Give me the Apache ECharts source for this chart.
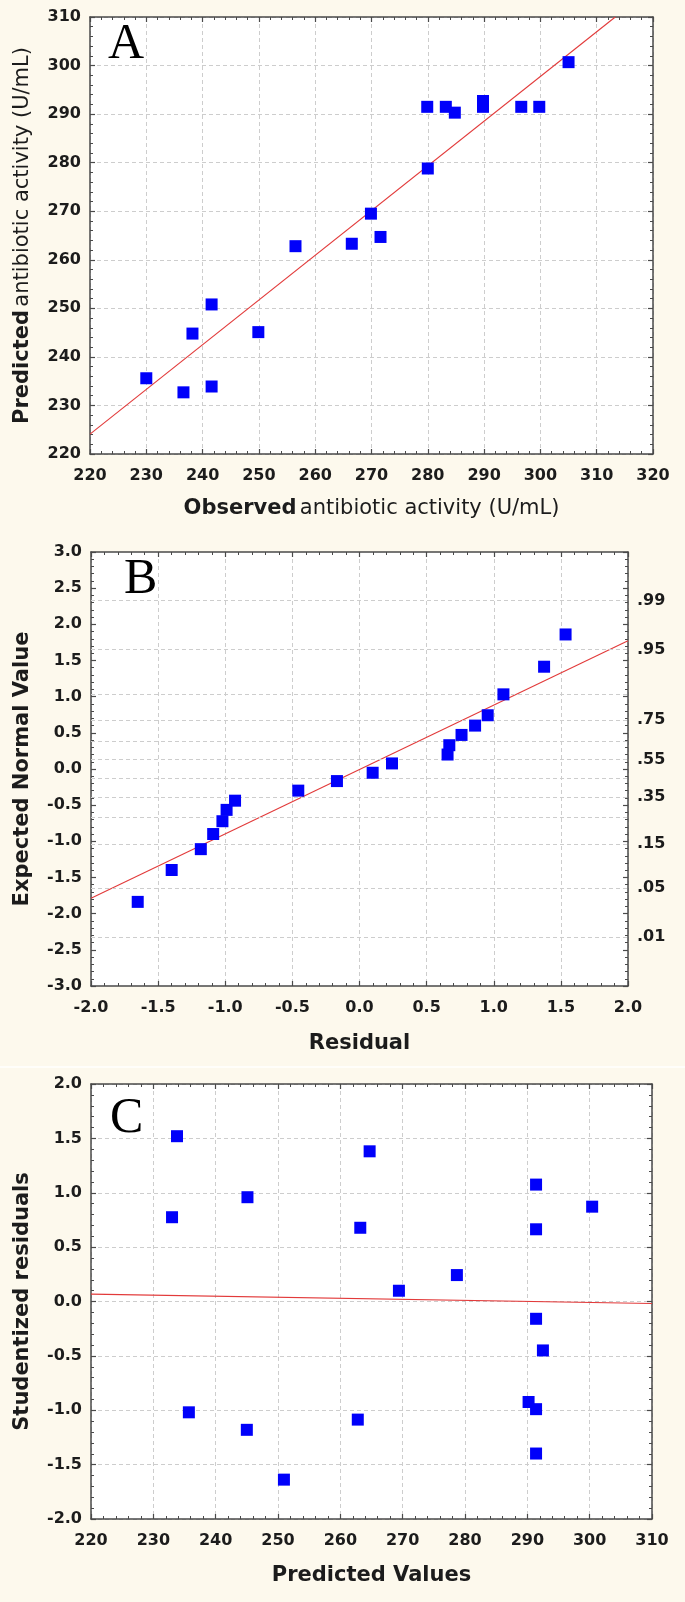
<!DOCTYPE html>
<html><head><meta charset="utf-8">
<script src="https://cdn.jsdelivr.net/npm/echarts@6/dist/echarts.min.js"></script>
<style>html,body{margin:0;padding:0;background:#fdf9ed}#c{width:685px;height:1602px}</style>
</head><body><div id="c"></div>
<script>
// ---- Panel A: observed vs predicted ----
const obsA  = [230, 236.6, 238.2, 241.6, 241.6, 249.9, 256.5, 266.5, 269.9, 271.6, 280, 279.9, 283.2, 284.8, 289.8, 289.8, 296.6, 299.8, 305];
const predA = [235.6, 232.7, 244.8, 250.8, 233.9, 245.1, 262.8, 263.3, 269.5, 264.7, 278.8, 291.5, 291.5, 290.3, 292.7, 291.5, 291.5, 291.5, 300.7];
const fitLineA = [[220, 224.1], [313.3, 310]];
// ---- Panel B: normal probability plot of residuals ----
const residB = [-1.652, -1.399, -1.182, -1.090, -1.021, -0.990, -0.927, -0.456, -0.168, 0.098, 0.242, 0.656, 0.669, 0.760, 0.861, 0.955, 1.072, 1.375, 1.535];
const normB  = [-1.837, -1.396, -1.108, -0.899, -0.722, -0.565, -0.438, -0.299, -0.167, -0.052, 0.077, 0.200, 0.329, 0.471, 0.600, 0.743, 1.032, 1.414, 1.860];
const fitLineB = [[-2, -1.786], [2, 1.774]];
const probGridZ = [-2.326, -1.645, -1.036, -0.674, -0.385, -0.126, 0.126, 0.385, 0.674, 1.036, 1.645, 2.326];
const probLabelZ = [-2.326, -1.645, -1.036, -0.385, 0.126, 0.674, 1.645, 2.326];
const probLabels = ['.01', '.05', '.15', '.35', '.55', '.75', '.95', '.99'];
// ---- Panel C: studentized residuals vs predicted ----
const predC = [233.8, 233.0, 245.1, 235.7, 245.0, 250.95, 264.7, 263.2, 262.8, 269.4, 278.7, 291.4, 291.4, 291.4, 292.5, 290.2, 291.4, 291.4, 300.4];
const studC = [1.52, 0.775, 0.959, -1.019, -1.18, -1.638, 1.381, 0.678, -1.086, 0.099, 0.243, 1.075, 0.664, -0.159, -0.45, -0.924, -0.99, -1.398, 0.872];
const fitLineC = [[220, 0.068], [310, -0.018]];

const FONT = 'DejaVu Sans';
const TXT = '#1c1c1c';
const FRAME = '#4a4a4a';
const GRIDC = '#cdcdcd';

function baseAxis(gi, pos, min, max, interval, showLabel, split, fmt) {
  return {
    type: 'value', gridIndex: gi, position: pos, min: min, max: max, interval: interval,
    axisLine: { show: true, onZero: false, lineStyle: { color: FRAME, width: 1.5 } },
    axisTick: { show: true, inside: true, length: 5, lineStyle: { color: FRAME, width: 1.2 } },
    minorTick: { show: true, splitNumber: 5, length: 3, lineStyle: { color: FRAME, width: 1 } },
    splitLine: { show: split, lineStyle: { color: GRIDC, type: [4, 3], width: 1 } },
    axisLabel: { show: showLabel, fontFamily: FONT, fontWeight: 'bold', fontSize: 16, color: TXT, margin: 9,
      formatter: fmt || (v => String(v)) }
  };
}
const f1 = v => v.toFixed(1);
const titleStyle = { fontFamily: FONT, fontWeight: 'bold', fontSize: 21, color: TXT };
const nameRich = {
  b: { fontFamily: FONT, fontWeight: 'bold', fontSize: 21, color: TXT },
  r: { fontFamily: FONT, fontWeight: 'normal', fontSize: 21, color: TXT }
};

// x axes
const xA = baseAxis(0, 'bottom', 220, 320, 10, true, true);
xA.axisLabel.margin = 14;
Object.assign(xA, { name: '{b|Observed} {r|antibiotic activity (U/mL)}', nameLocation: 'middle', nameGap: 44, nameTextStyle: { rich: nameRich } });
const xA2 = baseAxis(0, 'top', 220, 320, 10, false, false);
const xB = baseAxis(1, 'bottom', -2, 2, 0.5, true, true, f1);
xB.axisLabel.margin = 14;
Object.assign(xB, { name: 'Residual', nameLocation: 'middle', nameGap: 47, nameTextStyle: titleStyle });
const xB2 = baseAxis(1, 'top', -2, 2, 0.5, false, false);
const xC = baseAxis(2, 'bottom', 220, 310, 10, true, true);
xC.axisLabel.margin = 14;
Object.assign(xC, { name: 'Predicted Values', nameLocation: 'middle', nameGap: 46, nameTextStyle: titleStyle });
const xC2 = baseAxis(2, 'top', 220, 310, 10, false, false);

// y axes
const yA = baseAxis(0, 'left', 220, 310, 10, true, true);
Object.assign(yA, { name: '{b|Predicted} {r|antibiotic activity (U/mL)}', nameLocation: 'middle', nameGap: 57, nameTextStyle: { rich: nameRich } });
const yA2 = baseAxis(0, 'right', 220, 310, 10, false, false);
const yB = baseAxis(1, 'left', -3, 3, 0.5, true, false, f1);
Object.assign(yB, { name: 'Expected Normal Value', nameLocation: 'middle', nameGap: 58, nameTextStyle: titleStyle });
const yB2 = baseAxis(1, 'right', -3, 3, 0.5, true, false);
yB2.axisLabel.customValues = probLabelZ;
yB2.axisLabel.formatter = v => { const i = probLabelZ.indexOf(v); return i >= 0 ? probLabels[i] : ''; };
const yC = baseAxis(2, 'left', -2, 2, 0.5, true, true, f1);
Object.assign(yC, { name: 'Studentized residuals', nameLocation: 'middle', nameGap: 58, nameTextStyle: titleStyle });
const yC2 = baseAxis(2, 'right', -2, 2, 0.5, false, false);

const sq = { type: 'scatter', symbol: 'rect', symbolSize: 12, itemStyle: { color: '#0000fa', opacity: 1 }, z: 5 };
const red = { type: 'line', symbol: 'none', lineStyle: { color: '#e23a3a', width: 1.1 }, z: 4, clip: true, silent: true };

const option = {
  backgroundColor: '#fdf9ed',
  animation: false,
  grid: [
    { left: 90, top: 17, width: 563, height: 437, show: true, backgroundColor: '#ffffff', borderWidth: 0 },
    { left: 91, top: 552, width: 537, height: 434, show: true, backgroundColor: '#ffffff', borderWidth: 0 },
    { left: 91, top: 1084, width: 561, height: 435, show: true, backgroundColor: '#ffffff', borderWidth: 0 }
  ],
  xAxis: [xA, xA2, xB, xB2, xC, xC2],
  yAxis: [yA, yA2, yB, yB2, yC, yC2],
  graphic: [
    { type: 'rect', shape: { x: 0, y: 1066, width: 685, height: 2 }, style: { fill: '#fffefa' }, z: 0 },
    { type: 'text', x: 108, y: 45, style: { text: 'A', fontFamily: 'Liberation Serif', fontSize: 50, fill: '#000', verticalAlign: 'middle' }, z: 10 },
    { type: 'text', x: 124, y: 580, style: { text: 'B', fontFamily: 'Liberation Serif', fontSize: 50, fill: '#000', verticalAlign: 'middle' }, z: 10 },
    { type: 'text', x: 110, y: 1119, style: { text: 'C', fontFamily: 'Liberation Serif', fontSize: 50, fill: '#000', verticalAlign: 'middle' }, z: 10 }
  ],
  series: [
    Object.assign({}, red, { xAxisIndex: 0, yAxisIndex: 0, data: fitLineA }),
    Object.assign({}, sq, { xAxisIndex: 0, yAxisIndex: 0, data: obsA.map((v, i) => [v, predA[i]]) }),
    { type: 'line', xAxisIndex: 2, yAxisIndex: 2, data: [], z: 1, silent: true,
      markLine: { silent: true, symbol: 'none', label: { show: false }, animation: false,
        lineStyle: { color: GRIDC, type: [4, 3], width: 1 },
        data: probGridZ.map(z => ({ yAxis: z })) } },
    Object.assign({}, red, { xAxisIndex: 2, yAxisIndex: 2, data: fitLineB }),
    Object.assign({}, sq, { xAxisIndex: 2, yAxisIndex: 2, data: residB.map((v, i) => [v, normB[i]]) }),
    Object.assign({}, red, { xAxisIndex: 4, yAxisIndex: 4, data: fitLineC }),
    Object.assign({}, sq, { xAxisIndex: 4, yAxisIndex: 4, data: predC.map((v, i) => [v, studC[i]]) })
  ]
};
const chart = echarts.init(document.getElementById('c'), null, { renderer: 'canvas' });
chart.setOption(option);
</script>
</body></html>
